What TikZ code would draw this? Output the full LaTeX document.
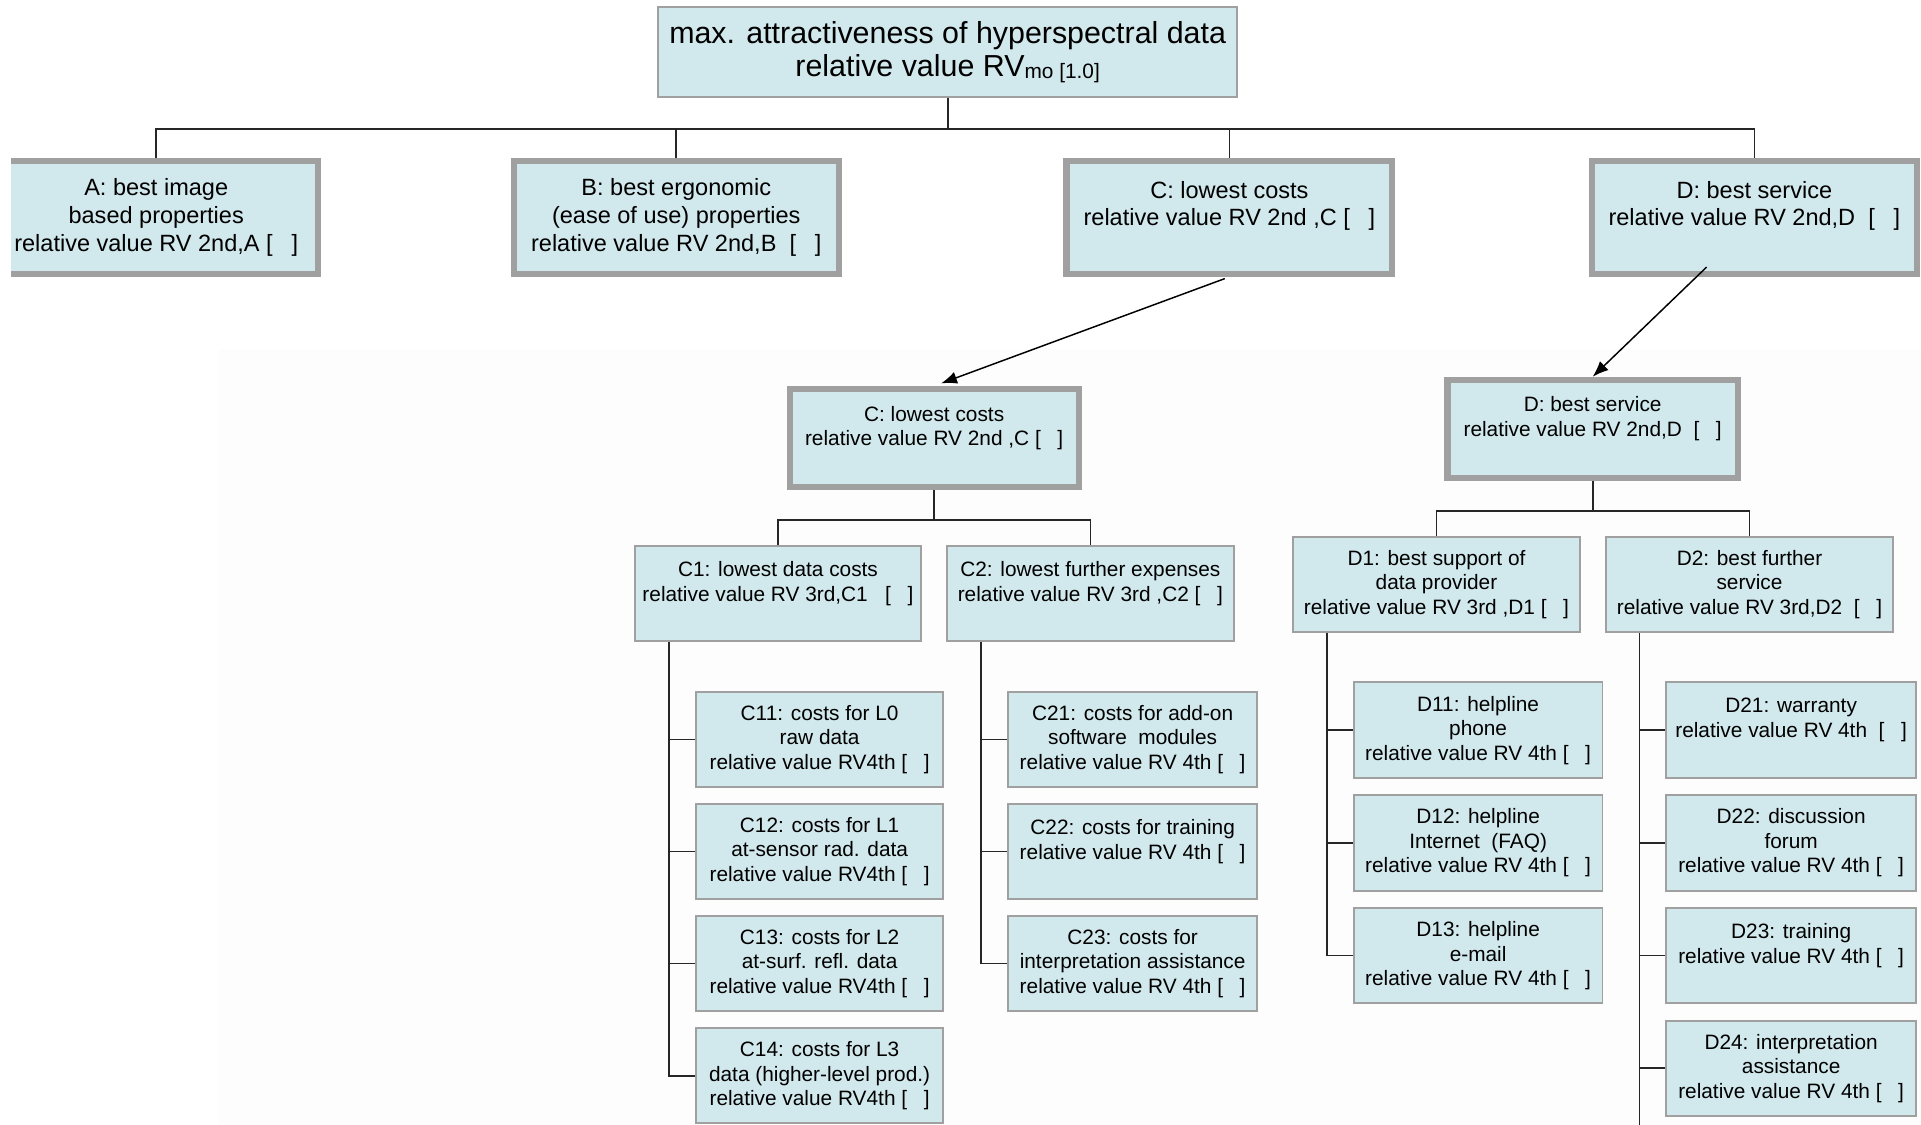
\documentclass[tikz,border=0pt]{standalone}
\usepackage{fontspec}
\setmainfont{Liberation Sans}
\usetikzlibrary{arrows.meta}
\definecolor{boxfill}{RGB}{209,232,236}
\definecolor{boxline}{RGB}{160,160,160}
\definecolor{faint}{RGB}{253,253,253}
\newcommand{\myBr}{[\hspace{0.8em}]}
\tikzset{
  base/.style={fill=boxfill, inner sep=0pt, align=center},
  thinbox/.style={base, draw=boxline, line width=0.8pt},
  thickbox/.style={base, draw=boxline, line width=2.5pt},
  sz/.style 2 args={minimum width=#1pt, minimum height=#2pt},
  ffour/.style={font=\fontsize{8.5}{10}\selectfont},
  ftwo/.style={font=\fontsize{9.6}{11.25}\selectfont},
  ftop/.style={font=\fontsize{12.4}{13.5}\selectfont},
  conn/.style={draw=black!85, line width=0.7pt},
  arr/.style={draw=black, line width=0.6pt, -{Latex[length=6.5pt,width=5pt]}}
}
\begin{document}
\begin{tikzpicture}[x=0.5pt,y=-0.5pt]
\useasboundingbox (0,0) rectangle (1568,918);
\fill[white] (0,0) rectangle (1568,918);
\fill[faint] (178,285) rectangle (1568,918);

% top
\node[thinbox, ftop, sz={236.5}{36.5}] (top) at (773.5,42.5)
  {max. attractiveness of hyperspectral data\\relative value RV\raisebox{-0.8pt}{\fontsize{8.5}{9}\selectfont mo [1.0]}};

% level 2
\begin{scope}
\clip (9,0) rectangle (1568,918);
\node[thickbox, ftwo, sz={132}{46}] (A) at (127.5,177.5)
  {A: best image\\based properties\\relative value RV 2nd,A \myBr};
\end{scope}
\node[thickbox, ftwo, sz={132.5}{46}] (B) at (552,177.5)
  {B: best ergonomic\\(ease of use) properties\\relative value RV 2nd,B \ \myBr};
\node[thickbox, ftwo, sz={133}{46}] (C) at (1003.5,177.5)
  {C: lowest costs\\relative value RV 2nd ,C \myBr\\\mbox{}};
\node[thickbox, ftwo, sz={132.5}{46}] (D) at (1432,177.5)
  {D: best service\\relative value RV 2nd,D \ \myBr\\\mbox{}};

% detail boxes
\node[thickbox, ffour, sz={118}{40}] (Cd) at (762.5,357.5)
  {C: lowest costs\\relative value RV 2nd ,C \myBr\\\mbox{}};
\node[thickbox, ffour, sz={118.5}{40}] (Dd) at (1300,350)
  {D: best service\\relative value RV 2nd,D \ \myBr\\\mbox{}};

% level 3
\node[thinbox, ffour, sz={117}{38.5}] (C1) at (635,484.5)
  {C1: lowest data costs\\relative value RV 3rd,C1 \ \ \myBr\\\mbox{}};
\node[thinbox, ffour, sz={117}{38.5}] (C2) at (890,484.5)
  {C2: lowest further expenses\\relative value RV 3rd ,C2 \myBr\\\mbox{}};
\node[thinbox, ffour, sz={117.5}{39}] (D1) at (1172.5,477)
  {D1: best support of\\data provider\\relative value RV 3rd ,D1 \myBr};
\node[thinbox, ffour, sz={117}{39}] (D2) at (1428,477)
  {D2: best further\\service\\relative value RV 3rd,D2 \ \myBr};

% level 4 C
\node[thinbox, ffour, sz={101}{38.5}] (C11) at (669,603.5)
  {C11: costs for L0\\raw data\\relative value RV4th \myBr};
\node[thinbox, ffour, sz={101}{39}] (C12) at (669,695)
  {C12: costs for L1\\at-sensor rad. data\\relative value RV4th \myBr};
\node[thinbox, ffour, sz={101}{38.5}] (C13) at (669,786.5)
  {C13: costs for L2\\at-surf. refl. data\\relative value RV4th \myBr};
\node[thinbox, ffour, sz={101}{39}] (C14) at (669,878)
  {C14: costs for L3\\data (higher-level prod.)\\relative value RV4th \myBr};
\node[thinbox, ffour, sz={101.5}{38.5}] (C21) at (924.5,603.5)
  {C21: costs for add-on\\software \ modules\\relative value RV 4th \myBr};
\node[thinbox, ffour, sz={101.5}{39}] (C22) at (924.5,695)
  {C22: costs for training\\relative value RV 4th \myBr\\\mbox{}};
\node[thinbox, ffour, sz={101.5}{38.5}] (C23) at (924.5,786.5)
  {C23: costs for\\interpretation assistance\\relative value RV 4th \myBr};

% level 4 D
\node[thinbox, ffour, sz={101.5}{39}] (D11) at (1206.5,596)
  {D11: helpline\\phone\\relative value RV 4th \myBr};
\node[thinbox, ffour, sz={101.5}{39}] (D12) at (1206.5,688)
  {D12: helpline\\Internet \ (FAQ)\\relative value RV 4th \myBr};
\node[thinbox, ffour, sz={101.5}{39}] (D13) at (1206.5,780)
  {D13: helpline\\e-mail\\relative value RV 4th \myBr};
\node[thinbox, ffour, sz={102}{39}] (D21) at (1462,596)
  {D21: warranty\\relative value RV 4th \ \myBr\\\mbox{}};
\node[thinbox, ffour, sz={102}{39}] (D22) at (1462,688)
  {D22: discussion\\forum\\relative value RV 4th \myBr};
\node[thinbox, ffour, sz={102}{39}] (D23) at (1462,780)
  {D23: training\\relative value RV 4th \myBr\\\mbox{}};
\node[thinbox, ffour, sz={102}{39}] (D24) at (1462,872)
  {D24: interpretation\\assistance\\relative value RV 4th \myBr};

% connectors top
\coordinate (yl1) at (0,105);
\draw[conn] (top.south) -- (top.south |- yl1);
\draw[conn] (A.north) |- (D.north |- yl1) -- (D.north);
\draw[conn] (B.north) -- (B.north |- yl1);
\draw[conn] (C.north) -- (C.north |- yl1);

% C subtree
\coordinate (yl2) at (0,424.5);
\draw[conn] (Cd.south) -- (Cd.south |- yl2);
\draw[conn] (C1.north) |- (C2.north |- yl2) -- (C2.north);

% D subtree
\coordinate (yl3) at (0,417);
\draw[conn] (Dd.south) -- (Dd.south |- yl3);
\draw[conn] (D1.north) |- (D2.north |- yl3) -- (D2.north);

% spines
\coordinate (c1s) at ([xshift=14.5pt]C1.south west);
\draw[conn] (c1s) |- (C14.west);
\foreach \n in {C11,C12,C13} \draw[conn] (c1s |- \n.west) -- (\n.west);
\coordinate (c2s) at ([xshift=14.3pt]C2.south west);
\draw[conn] (c2s) |- (C23.west);
\foreach \n in {C21,C22} \draw[conn] (c2s |- \n.west) -- (\n.west);
\coordinate (d1s) at ([xshift=14.5pt]D1.south west);
\draw[conn] (d1s) |- (D13.west);
\foreach \n in {D11,D12} \draw[conn] (d1s |- \n.west) -- (\n.west);
\coordinate (d2s) at ([xshift=14pt]D2.south west);
\coordinate (bot) at (0,918);
\draw[conn] (d2s) -- (d2s |- bot);
\foreach \n in {D21,D22,D23,D24} \draw[conn] (d2s |- \n.west) -- (\n.west);

% arrows
\draw[arr, shorten <=2pt, shorten >=3pt] (C.south) -- (Cd.north);
\coordinate (dA) at (1393,218);
\draw[arr] (dA) -- (Dd.north);
\end{tikzpicture}
\end{document}
